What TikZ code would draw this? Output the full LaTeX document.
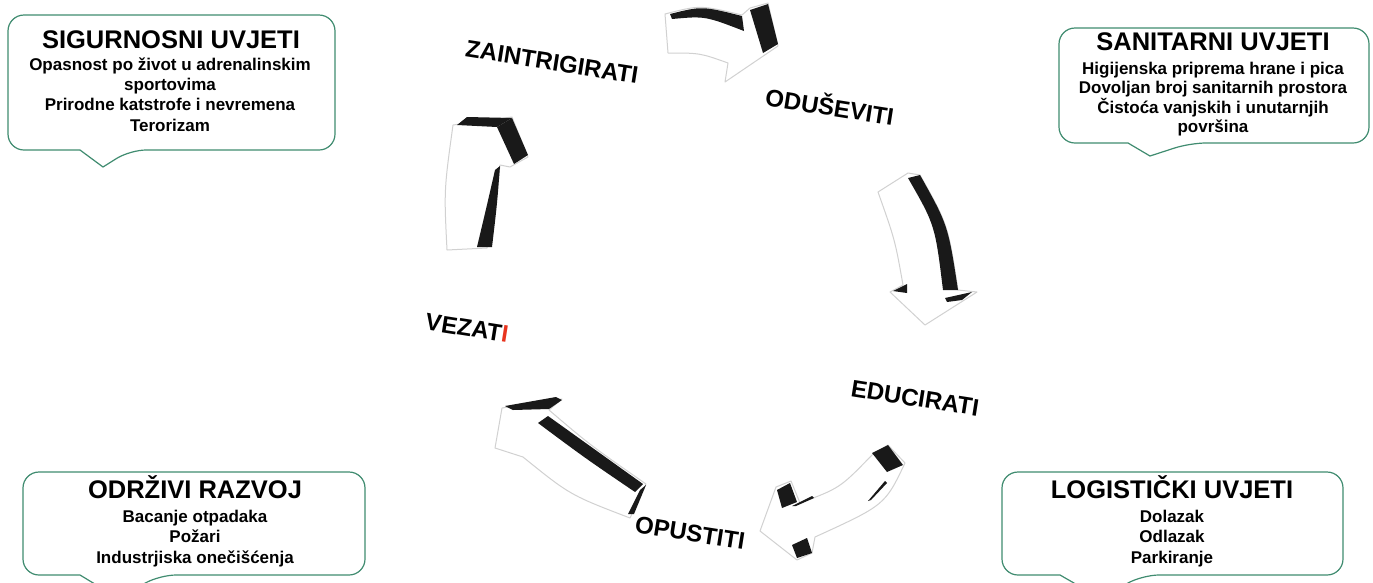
\documentclass[tikz,border=0pt]{standalone}
\usepackage{fontspec}
\setmainfont{Liberation Sans}
\begin{document}
\begin{tikzpicture}[x=1pt, y=-1pt,
    callout/.style={draw=boxgreen, line width=1.2pt, fill=white, rounded corners=16pt},
    title/.style={font=\fontsize{25.5}{28}\selectfont\bfseries, anchor=base, inner sep=0pt},
    body/.style={font=\fontsize{17}{20}\selectfont\bfseries, anchor=base, inner sep=0pt},
    cyclelabel/.style={font=\fontsize{24}{27}\selectfont\bfseries, rotate=-9, inner sep=0pt},
    arrbody/.style={fill=white, draw=black!18, line width=1pt, line join=round},
    arrface/.style={fill=black!90}]

    % Colors
    \definecolor{boxgreen}{RGB}{64,140,112} % callout border
    \definecolor{lastred}{RGB}{232,52,30} % red letter

    % Page
    \clip (0,0) rectangle (1373,582);
    \fill[white] (0,0) rectangle (1373,582);

    % Callouts
    \draw[callout] (80,150) -- (8,150) -- (8,15) -- (335,15) -- (335,150) -- (130,150) [sharp corners] -- (103,167) -- cycle;
    \draw[callout] (1128,143) -- (1059,143) -- (1059,28) -- (1369,28) -- (1369,143) -- (1190,143) [sharp corners] -- (1150,156) -- cycle;
    \draw[callout] (80,575) -- (23,575) -- (23,472) -- (365,472) -- (365,575) -- (160,575) [sharp corners] -- (118,598) -- cycle;
    \draw[callout] (1060,575) -- (1002,575) -- (1002,472) -- (1343,472) -- (1343,575) -- (1143,575) [sharp corners] -- (1100,598) -- cycle;

    % Callout texts
    \node[title] (sigTitle) at (171,48) {SIGURNOSNI UVJETI};
    \foreach \txt [count=\k] in {Opasnost po život u adrenalinskim, sportovima, Prirodne katstrofe i nevremena, Terorizam}
        \node[body] (sig\k) at (170,50+20.3*\k) {\txt};

    \node[title] (sanTitle) at (1213,50) {SANITARNI UVJETI};
    \foreach \txt [count=\k] in {Higijenska priprema hrane i pica, Dovoljan broj sanitarnih prostora, Čistoća vanjskih i unutarnjih, površina}
        \node[body] (san\k) at (1213,54.5+19.6*\k) {\txt};

    \node[title] (odrTitle) at (195,498) {ODRŽIVI RAZVOJ};
    \foreach \txt [count=\k] in {Bacanje otpadaka, Požari, Industrjiska onečišćenja}
        \node[body] (odr\k) at (195,501.5+20.5*\k) {\txt};

    \node[title] (logTitle) at (1172,498) {LOGISTIČKI UVJETI};
    \foreach \txt [count=\k] in {Dolazak, Odlazak, Parkiranje}
        \node[body] (log\k) at (1172,501.5+20.5*\k) {\txt};

    % Arrow: top
    \draw[arrbody] (665,14) .. controls (700,5) .. (742,15) -- (750,8) -- (768,3) -- (778,46) -- (725,82) -- (728,63) .. controls (700,53) .. (668,53) -- cycle;
    \fill[arrface] (670,14) .. controls (702,6) .. (742,16) -- (744,31) .. controls (705,16) .. (672,19) -- cycle;
    \fill[arrface] (750,10) -- (768,4) -- (778,44) -- (763,53) -- cycle;

    % Arrow: right
    \draw[arrbody] (878,192) -- (908,173) -- (920,175) .. controls (948,225) .. (958,290) -- (977,292) -- (925,325) -- (890,292) -- (903,285) .. controls (895,240) .. (878,192) -- cycle;
    \fill[arrface] (908,178) -- (920,175) .. controls (948,225) .. (958,290) -- (943,290) .. controls (935,225) .. (908,178) -- cycle;
    \fill[arrface] (893,291) -- (907,284) -- (907,293) -- cycle;
    \fill[arrface] (945,298) -- (972,292) -- (962,300) -- (947,302) -- cycle;

    % Arrow: bottom right
    \draw[arrbody] (760,531) -- (776,487) -- (791,481) -- (800,503) .. controls (840,488) .. (872,455) -- (888,445) -- (905,463) .. controls (885,505) .. (815,537) -- (812,553) -- (797,560) -- cycle;
    \fill[arrface] (872,453) -- (888,445) -- (903,465) -- (887,472) -- cycle;
    \fill[arrface] (777,490) -- (790,483) -- (797,502) -- (782,508) -- cycle;
    \fill[arrface] (792,545) -- (807,538) -- (812,553) -- (797,558) -- cycle;
    \fill[arrface] (792,506) -- (812,496) -- (814,498) -- (796,506) -- cycle;
    \fill[arrface] (868,501) -- (885,481) -- (887,483) -- (871,500) -- cycle;

    % Arrow: bottom left
    \draw[arrbody] (502,408) -- (562,399) -- (549,410) .. controls (590,445) .. (646,484) -- (630,518) .. controls (570,495) .. (523,457) -- (495,448) -- cycle;
    \fill[arrface] (505,406) -- (556,397) -- (562,400) -- (549,409) -- (513,410) -- cycle;
    \fill[arrface] (548,416) .. controls (595,450) .. (643,484) -- (635,492) .. controls (585,458) .. (538,423) -- cycle;
    \fill[arrface] (640,490) -- (646,485) -- (634,514) -- (628,514) -- cycle;

    % Arrow: left
    \draw[arrbody] (453,125) -- (512,117) -- (528,157) -- (510,167) -- (500,165) .. controls (496,200) .. (487,248) -- (447,250) .. controls (444,190) .. (453,125) -- cycle;
    \fill[arrface] (457,125) -- (467,117) -- (512,118) -- (497,127) -- cycle;
    \fill[arrface] (497,127) -- (512,118) -- (528,155) -- (514,164) -- cycle;
    \fill[arrface] (500,166) .. controls (497,205) .. (492,247) -- (477,247) .. controls (487,205) .. (495,170) -- cycle;

    % Cycle labels
    \node[cyclelabel] (zain) at (552,62) {ZAINTRIGIRATI};
    \node[cyclelabel] (odus) at (830,105) {ODUŠEVITI};
    \node[cyclelabel] (educ) at (915,398) {EDUCIRATI};
    \node[cyclelabel] (opus) at (690,533) {OPUSTITI};
    \node[cyclelabel] (vez) at (467,328) {VEZAT\textcolor{lastred}{I}};

\end{tikzpicture}
\end{document}
